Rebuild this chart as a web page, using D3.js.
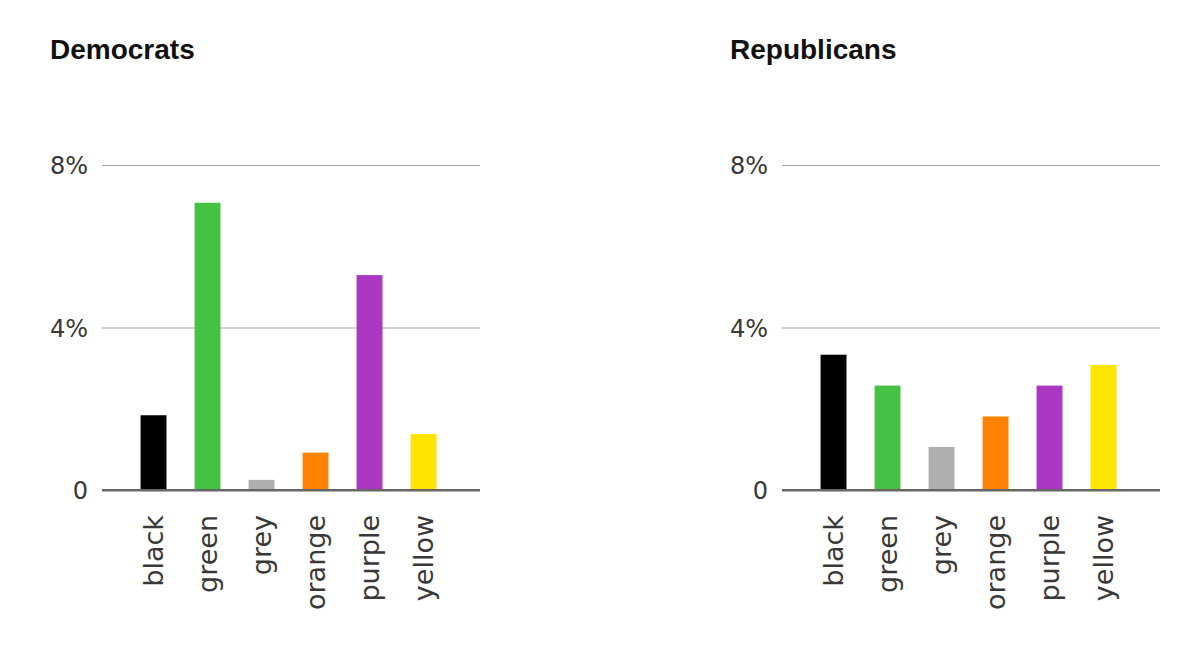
<!DOCTYPE html>
<html>
<head>
<meta charset="utf-8">
<script src="https://cdn.jsdelivr.net/npm/d3@7"></script>
<style>
  body { margin: 0; background: #fff; }
  svg text { font-family: "Helvetica Neue", "Liberation Sans", Arial, sans-serif; }
  .title { font-weight: bold; font-size: 28px; fill: #111; }
  .tick text { font-family: "DejaVu Sans", sans-serif; font-weight: normal; font-size: 24px; fill: #383838; }
</style>
</head>
<body>
<svg id="chart" width="1200" height="645"></svg>
<script>
// colour categories
var categories = ["black", "green", "grey", "orange", "purple", "yellow"];
var barColors = ["#000000", "#45c244", "#afafaf", "#ff8200", "#aa38c2", "#ffe400"];
// percent values per party
var democrats = [1.84, 7.07, 0.25, 0.92, 5.29, 1.38];
var republicans = [3.33, 2.57, 1.06, 1.81, 2.57, 3.08];
var yTicks = [0, 4, 8];
var yTickLabels = ["0", "4%", "8%"];

var panels = [
    {title: "Democrats", values: democrats, left: 0},
    {title: "Republicans", values: republicans, left: 680}
];

var svg = d3.select("#chart");

var y = d3.scaleLinear()
    .domain([0, 8])
    .range([490, 165]);

panels.forEach(function(p) {
    var g = svg.append("g").attr("transform", "translate(" + p.left + ",0)");

    var x = d3.scaleBand()
        .domain(categories)
        .range([102, 480])
        .paddingInner(0.52)
        .paddingOuter(0.76)
        .align(0.47);

    //title
    g.append("text")
        .attr("class", "title")
        .attr("x", 50)
        .attr("y", 59)
        .text(p.title);

    //gridlines + y labels
    var yAxis = g.append("g")
        .attr("transform", "translate(102,0)")
        .call(d3.axisLeft(y)
            .tickValues(yTicks)
            .tickSize(-378)
            .tickPadding(14)
            .tickFormat(function(d, i) { return yTickLabels[i]; }));
    yAxis.select(".domain").remove();
    yAxis.selectAll(".tick line")
        .attr("stroke", function(d) { return d === 0 ? "#666" : "#a8a8a8"; })
        .attr("stroke-width", function(d) { return d === 0 ? 2 : 1.2; });
    yAxis.selectAll(".tick text").attr("dy", "0.36em");

    //bars
    g.selectAll(".bar")
        .data(p.values)
        .enter().append("rect")
        .attr("class", "bar")
        .attr("x", function(d, i) { return x(categories[i]); })
        .attr("width", x.bandwidth())
        .attr("y", function(d) { return y(d); })
        .attr("height", function(d) { return y(0) - y(d); })
        .attr("fill", function(d, i) { return barColors[i]; });

    //baseline drawn over the bars
    g.append("line")
        .attr("x1", 102).attr("x2", 480)
        .attr("y1", y(0)).attr("y2", y(0))
        .attr("stroke", "#666").attr("stroke-width", 2);

    //x labels
    var xAxis = g.append("g")
        .attr("transform", "translate(0," + y(0) + ")")
        .call(d3.axisBottom(x).tickSize(0).tickPadding(0));
    xAxis.select(".domain").remove();
    xAxis.selectAll(".tick text")
        .attr("transform", "rotate(-90)")
        .attr("text-anchor", "end")
        .attr("x", -25)
        .attr("y", 0)
        .attr("dy", "0.36em")
        .style("font-size", "27px");
});
</script>
</body>
</html>
